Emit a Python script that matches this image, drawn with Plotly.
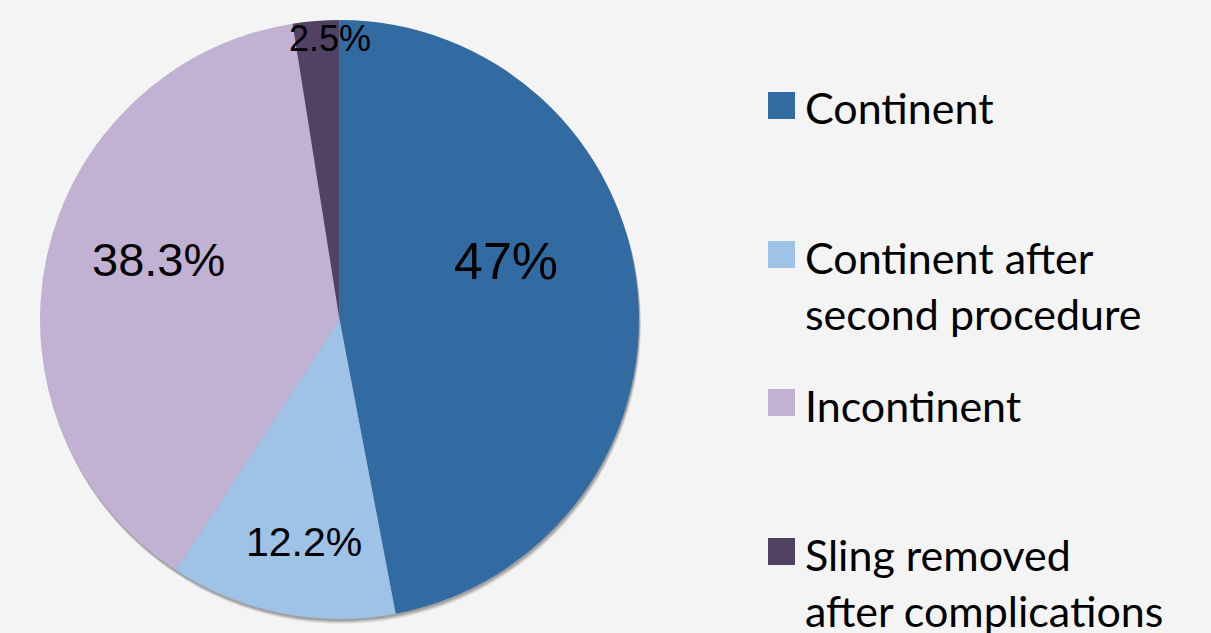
import plotly.graph_objects as go

W, H = 1211, 633

# Outcome categories and their shares (%)
labels = ["Continent", "Continent after<br>second procedure", "Incontinent",
          "Sling removed<br>after complications"]
values = [47, 12.2, 38.3, 2.5]
colors = ["#326aa2", "#9fc2e7", "#c1b2d3", "#514263"]

# value-label placement (pixels) and sizes
label_pos = [(506, 261), (304, 542), (158, 259), (330, 38)]
label_size = [52, 41, 47, 36]

# legend rows: square centre y (pixels)
legend_y = [105.5, 254.5, 402.5, 551.5]

cx, cy, r = 339.5, 319.5, 299.5


def px(x):
    return x / W


def py(y):
    return 1 - y / H


fig = go.Figure()
fig.add_trace(go.Pie(
    labels=labels,
    values=values,
    sort=False,
    direction="clockwise",
    rotation=0,
    marker=dict(colors=colors, line=dict(width=0)),
    textinfo="none",
    hoverinfo="label+value",
    showlegend=False,
    domain=dict(x=[px(cx - r), px(cx + r)], y=[py(cy + r), py(cy - r)]),
))

shapes = []
# soft drop shadow beneath the pie
for off, op in [(5, 0.10), (4, 0.15), (3, 0.2), (2, 0.25)]:
    shapes.append(dict(
        type="circle", xref="paper", yref="paper", layer="below",
        x0=px(cx - r + off * 0.4), x1=px(cx + r + off * 0.4),
        y0=py(cy + r + off), y1=py(cy - r + off),
        fillcolor=f"rgba(90,90,90,{op})", line=dict(width=0),
    ))

annotations = []
for v, (x, y), s in zip(values, label_pos, label_size):
    annotations.append(dict(
        text=f"{v:g}%", x=px(x), y=py(y), xref="paper", yref="paper",
        xanchor="center", yanchor="middle", showarrow=False,
        font=dict(family="Liberation Sans, Arial", size=s, color="#000000"),
    ))

sq = 27
for lab, c, yc in zip(labels, colors, legend_y):
    shapes.append(dict(
        type="rect", xref="paper", yref="paper",
        x0=px(768), x1=px(768 + sq), y0=py(yc + sq / 2), y1=py(yc - sq / 2),
        fillcolor=c, line=dict(width=0),
    ))
    annotations.append(dict(
        text=lab, x=px(803), y=py(yc - 25), xref="paper", yref="paper",
        xanchor="left", yanchor="top", align="left", showarrow=False,
        font=dict(family="Lato, Open Sans", size=43, color="#000000"),
    ))

fig.update_layout(
    width=W, height=H,
    margin=dict(l=0, r=0, t=0, b=0),
    paper_bgcolor="#f4f4f4",
    plot_bgcolor="#f4f4f4",
    shapes=shapes,
    annotations=annotations,
)

fig.write_html("out.html")
